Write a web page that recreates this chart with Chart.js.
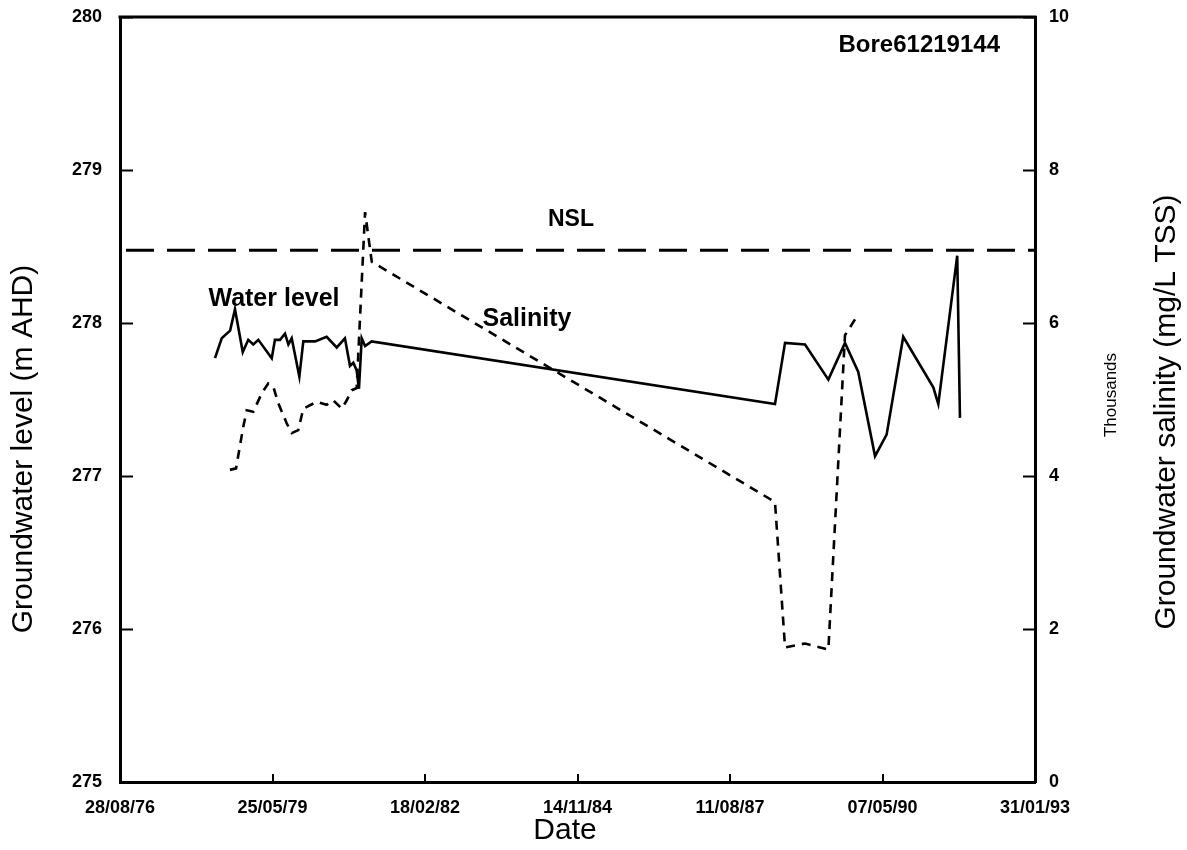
<!DOCTYPE html>
<html>
<head>
<meta charset="utf-8">
<script src="https://cdn.jsdelivr.net/npm/chart.js@4.4.1/dist/chart.umd.min.js"></script>
<style>
  html, body { margin: 0; padding: 0; background: #fff; }
  #wrap { width: 1187px; height: 850px; }
</style>
</head>
<body>
<div id="wrap"><canvas id="c" width="1187" height="850"></canvas></div>
<script>
// Dates are spreadsheet day serials (day 1 = 01/01/1900)
const levelDates = [28623, 28667, 28722, 28754, 28805, 28841, 28874, 28907, 28995, 29016,
  29049, 29082, 29104, 29126, 29176, 29202, 29279, 29355, 29421, 29475,
  29508, 29530, 29552, 29567, 29585, 29607, 29650, 32295, 32361, 32492,
  32645, 32754, 32841, 32951, 33027, 33136, 33333, 33366, 33490, 33508];
// Groundwater level, m AHD
const levelValues = [277.77, 277.90, 277.95, 278.09, 277.81, 277.89, 277.86, 277.89, 277.77, 277.89,
  277.89, 277.93, 277.86, 277.90, 277.65, 277.88, 277.88, 277.91, 277.84, 277.90,
  277.72, 277.74, 277.69, 277.57, 277.90, 277.85, 277.88, 277.47, 277.87, 277.86,
  277.63, 277.87, 277.68, 277.13, 277.27, 277.91, 277.58, 277.47, 278.44, 277.38];

const salinityDates = [28721, 28761, 28808, 28831, 28874, 28929, 28972, 29005, 29038, 29093,
  29126, 29169, 29202, 29290, 29355, 29399, 29454, 29487, 29519, 29552,
  29607, 29651, 32295, 32361, 32492, 32645, 32754, 32830];
// Groundwater salinity, thousand mg/L TSS
const salinityValues = [4.08, 4.10, 4.64, 4.86, 4.84, 5.08, 5.21, 5.17, 4.95, 4.69,
  4.56, 4.60, 4.88, 4.97, 4.93, 4.99, 4.88, 4.99, 5.12, 5.15,
  7.45, 6.80, 3.66, 1.76, 1.81, 1.73, 5.84, 6.08];

// National salinity limit, thousand mg/L
const nslValue = 6.95;

const xTicks = [28000, 29000, 30000, 31000, 32000, 33000, 34000];
const levelTicks = [275, 276, 277, 278, 279, 280];
const salinityTicks = [0, 2, 4, 6, 8, 10];

const FONT = '"Liberation Sans", Arial, Helvetica, sans-serif';

function serialToLabel(serial) {
  const d = new Date(Date.UTC(1899, 11, 30) + serial * 86400000);
  const dd = String(d.getUTCDate()).padStart(2, '0');
  const mm = String(d.getUTCMonth() + 1).padStart(2, '0');
  const yy = String(d.getUTCFullYear() % 100).padStart(2, '0');
  return dd + '/' + mm + '/' + yy;
}

const zip = (xs, ys) => xs.map((x, i) => ({ x: x, y: ys[i] }));

// frame top edge, inward tick marks and all chart text
const framePlugin = {
  id: 'frame',
  afterDraw(chart) {
    const ctx = chart.ctx;
    const a = chart.chartArea;
    const sx = chart.scales.x, sl = chart.scales.yL, sr = chart.scales.yR;
    ctx.save();
    ctx.strokeStyle = '#000';
    ctx.lineCap = 'butt';
    ctx.lineWidth = 3;
    ctx.beginPath();
    ctx.moveTo(a.left - 1.5, a.top);
    ctx.lineTo(a.right + 1.5, a.top);
    ctx.stroke();

    ctx.lineWidth = 2;
    ctx.beginPath();
    levelTicks.forEach(v => {
      const y = Math.round(sl.getPixelForValue(v)) + 0.5;
      ctx.moveTo(a.left, y); ctx.lineTo(a.left + 13, y);
    });
    salinityTicks.forEach(v => {
      const y = Math.round(sr.getPixelForValue(v)) + 0.5;
      ctx.moveTo(a.right, y); ctx.lineTo(a.right - 12, y);
    });
    xTicks.forEach(v => {
      const x = Math.round(sx.getPixelForValue(v));
      ctx.moveTo(x, a.bottom); ctx.lineTo(x, a.bottom - 8);
    });
    ctx.stroke();

    ctx.fillStyle = '#000';
    ctx.textBaseline = 'middle';

    // annotations
    ctx.font = 'bold 24px ' + FONT;
    ctx.textAlign = 'right';
    ctx.fillText('Bore61219144', 1000, 45);
    ctx.textAlign = 'center';
    ctx.font = 'bold 23px ' + FONT;
    ctx.fillText('NSL', 571, 220);
    ctx.font = 'bold 25px ' + FONT;
    ctx.fillText('Water level', 274, 299);
    ctx.fillText('Salinity', 527, 319);

    // axis titles
    ctx.font = '30px ' + FONT;
    ctx.fillText('Date', 565, 831);

    ctx.save();
    ctx.translate(24, 449);
    ctx.rotate(-Math.PI / 2);
    ctx.fillText('Groundwater level (m AHD)', 0, 0);
    ctx.restore();

    ctx.save();
    ctx.translate(1167, 412);
    ctx.rotate(-Math.PI / 2);
    ctx.fillText('Groundwater salinity (mg/L TSS)', 0, 0);
    ctx.restore();

    ctx.save();
    ctx.font = '17px ' + FONT;
    ctx.translate(1111, 395);
    ctx.rotate(-Math.PI / 2);
    ctx.fillText('Thousands', 0, 0);
    ctx.restore();

    ctx.restore();
  }
};

const tickFont = { family: FONT, size: 18, weight: 'bold' };

// fixed axis band sizes; the tick labels may overhang the plot corners
const fitY = width => s => { s.width = width; s.paddingTop = 0; s.paddingBottom = 0; };

new Chart(document.getElementById('c'), {
  type: 'line',
  data: {
    datasets: [
      {
        label: 'Water level',
        data: zip(levelDates, levelValues),
        yAxisID: 'yL',
        borderColor: '#000',
        borderWidth: 2.6,
        pointRadius: 0,
        tension: 0,
        fill: false
      },
      {
        label: 'Salinity',
        data: zip(salinityDates, salinityValues),
        yAxisID: 'yR',
        borderColor: '#000',
        borderWidth: 2.6,
        borderDash: [9, 7],
        pointRadius: 0,
        tension: 0,
        fill: false
      },
      {
        label: 'NSL',
        data: [{ x: xTicks[0], y: nslValue }, { x: xTicks[xTicks.length - 1], y: nslValue }],
        yAxisID: 'yR',
        borderColor: '#000',
        borderWidth: 3,
        borderDash: [28, 13],
        borderDashOffset: -6,
        pointRadius: 0,
        fill: false
      }
    ]
  },
  options: {
    responsive: false,
    animation: false,
    devicePixelRatio: 1,
    layout: { padding: { top: 17, left: 0, right: 0, bottom: 0 } },
    plugins: { legend: { display: false }, tooltip: { enabled: false }, title: { display: false } },
    scales: {
      x: {
        type: 'linear',
        position: 'bottom',
        min: xTicks[0],
        max: xTicks[xTicks.length - 1],
        afterBuildTicks: s => { s.ticks = xTicks.map(v => ({ value: v })); },
        afterFit: s => { s.height = 68; s.paddingLeft = 0; s.paddingRight = 0; },
        grid: { display: false, drawTicks: false },
        border: { display: true, color: '#000', width: 3 },
        ticks: {
          callback: v => serialToLabel(v),
          color: '#000',
          font: tickFont,
          padding: 15,
          maxRotation: 0,
          autoSkip: false
        }
      },
      yL: {
        type: 'linear',
        position: 'left',
        min: levelTicks[0],
        max: levelTicks[levelTicks.length - 1],
        afterBuildTicks: s => { s.ticks = levelTicks.map(v => ({ value: v })); },
        afterFit: fitY(120),
        grid: { display: false, drawTicks: false },
        border: { display: true, color: '#000', width: 3 },
        ticks: { color: '#000', font: tickFont, padding: 18 }
      },
      yR: {
        type: 'linear',
        position: 'right',
        min: salinityTicks[0],
        max: salinityTicks[salinityTicks.length - 1],
        afterBuildTicks: s => { s.ticks = salinityTicks.map(v => ({ value: v })); },
        afterFit: fitY(152),
        grid: { display: false, drawTicks: false },
        border: { display: true, color: '#000', width: 3 },
        ticks: { color: '#000', font: tickFont, padding: 14 }
      }
    }
  },
  plugins: [framePlugin]
});
</script>
</body>
</html>
